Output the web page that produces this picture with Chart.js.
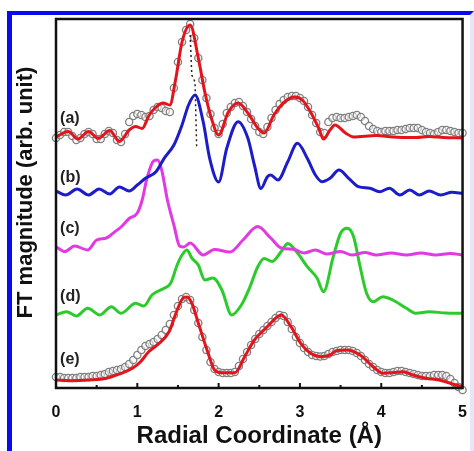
<!DOCTYPE html>
<html>
<head>
<meta charset="utf-8">
<script src="https://cdn.jsdelivr.net/npm/chart.js@4.4.1/dist/chart.umd.min.js"></script>
<style>
  html, body { margin: 0; padding: 0; background: #fff; }
  #wrap { position: relative; width: 474px; height: 451px; overflow: hidden; }
  #frame {
    position: absolute; left: 7px; top: 11px; right: 0; bottom: 0;
    border-top: 4px solid #0a0af0; border-left: 5px solid #0a0af0;
    border-right: 4px solid #e6e6fa; pointer-events: none;
  }
</style>
</head>
<body>
<div id="wrap">
  <canvas id="myChart" width="474" height="451"></canvas>
  <div id="frame"></div>
</div>
<script>
// Radial coordinate (Å) and FT magnitude (arb. unit) for each trace

// (a) fit
const rFitA = [0.00,0.15,0.27,0.40,0.52,0.66,0.78,0.90,0.98,1.06,1.14,1.23,1.32,1.40,1.47,1.55,1.65,1.75,1.83,1.91,2.00,2.12,2.24,2.36,2.48,2.56,2.68,2.81,2.93,3.03,3.13,3.23,3.29,3.37,3.43,3.56,3.66,3.94,4.14,4.43,4.59,4.76,5.00];
const vFitA = [251,256.5,249,256.5,249.5,257.5,246.5,258,261.5,259.5,272,281,285,283,308,346,363,330,296,270,253,276,285,275,260,255,273,286,291,288,276,260,249,258,263,255,251,252.5,251,250.5,251.5,250.5,250];

// (a) and (e) experimental points, every 0.05 Å from 0 to 5
const rExp = Array.from({length: 101}, (_, i) => +(i * 0.05).toFixed(2));
const vExpA = [
  250,253,256,256,252,248,250,254,256,254,
  249,249,254,257,255,248,246,254,266,272,
  274,273,271,272,278,281,280,277,276,300,
  326,346,358,364,350,330,308,290,274,260,
  254,264,275,281,285,286,282,276,269,262,
  256,254,261,270,278,284,288,291,292,292,
  290,287,281,273,265,256,255,266,270,271,
  270,270,271,272,273,271,267,262,259,257,
  256,257,257,257,258,258,259,260,260,260,
  258,256,255,254,256,258,258,257,256,255,
  255
];
const vExpE = [
  11,11,10,10,10,10,11,11,11,12,
  12,13,14,16,17,18,19,21,24,28,
  33,38,42,44,46,49,53,58,64,73,
  82,89,91,88,78,65,51,38,26,19,
  16,15,15,15,16,22,29,36,43,49,
  54,58,62,66,70,73,72,66,59,51,
  45,40,36,33,32,31.5,32,34,36,37,
  38,38,38,37,35,32,28,24,21,18,
  16,15,15,16,17,17,16,15,14,13,
  12,12,12,13,13,13,12,9,5,1,
  -2
];

// (b)
const rB = [0.00,0.12,0.26,0.40,0.53,0.66,0.78,0.90,1.00,1.10,1.23,1.33,1.45,1.55,1.63,1.71,1.81,1.89,2.00,2.10,2.24,2.36,2.44,2.52,2.60,2.64,2.73,2.85,2.97,3.09,3.19,3.27,3.37,3.48,3.60,3.72,3.86,3.98,4.10,4.23,4.35,4.47,4.59,4.73,4.87,5.00];
const vB = [197,193,199,193,199,194,201,197,203,209.7,216.3,229.7,243,263,283,293,266.3,229.7,206,239.7,266.3,249.7,223,199.5,211.3,213,208,226.3,244.7,229.7,213,206.3,209.7,218,209.7,201.3,199.7,196.3,199.7,193,198,193,197,193,195.7,194.7];

// (c)
const rC = [0.00,0.11,0.23,0.39,0.50,0.62,0.72,0.80,0.90,1.00,1.06,1.12,1.20,1.25,1.30,1.37,1.45,1.52,1.57,1.65,1.81,1.95,2.14,2.30,2.48,2.64,2.77,2.93,3.05,3.19,3.33,3.50,3.64,3.80,3.94,4.12,4.31,4.49,4.67,4.85,5.00];
const vC = [141.3,136.5,142,138,148,150,156,161,169.5,175,188,210,227,228,218,188,163,142,141,145,133,138.5,136,148,161.5,150,140,138.5,135,138,134,136.5,133,135.5,133,135,133,135,133,134.5,133];

// (d)
const rD = [0.00,0.13,0.25,0.39,0.54,0.68,0.80,0.98,1.08,1.18,1.33,1.41,1.49,1.55,1.61,1.67,1.75,1.83,1.93,2.04,2.16,2.28,2.38,2.48,2.56,2.66,2.77,2.85,2.97,3.09,3.21,3.29,3.41,3.50,3.58,3.66,3.74,3.82,3.90,4.02,4.14,4.31,4.43,4.59,4.79,5.00];
const vD = [73,76.3,72,79.7,73,81.3,74.7,84.7,82,93,99.7,104.7,123,133,138,130,123,108,110,98,73,83,100,121,129.5,126.5,136.5,144.5,135,121.3,110,96.3,131.3,154.7,159.7,151.3,121.3,94.7,86.3,91.3,88,79.7,74.7,76.3,75,74.7];

// (e) fit
const rFitE = [0.00,0.17,0.41,0.62,0.78,0.94,1.04,1.14,1.27,1.39,1.49,1.57,1.61,1.67,1.75,1.87,1.95,2.04,2.20,2.32,2.44,2.60,2.77,2.89,3.01,3.13,3.25,3.37,3.45,3.58,3.74,3.90,4.02,4.14,4.27,4.39,4.55,4.71,4.83,5.00];
const vFitE = [8,7.3,8,9.7,14,19.7,26.3,36.3,44.7,56.3,78,90.5,91,85,65,35,18,15.3,15.3,31.3,48,61.3,73,61.3,44.7,34.7,31.3,33,37.3,38,33,21.3,14.7,15.3,16.3,13,9.7,8,5.3,1];

// dotted guide between the main peaks of (a) and (b)
const rGuide = [1.65, 1.67, 1.71, 1.73];
const vGuide = [353, 313, 306, 240];

const xTicks = [0, 1, 2, 3, 4, 5];
const traceTags = ['(a)', '(b)', '(c)', '(d)', '(e)'];

function pts(xs, ys) {
    return xs.map((x, i) => ({ x: x, y: ys[i] }));
}

const FONT = "'Liberation Sans', Arial, Helvetica, sans-serif";

// frame, inward ticks, y title and trace tags
const framePlugin = {
    id: 'framePlugin',
    afterDraw(chart) {
        const ctx = chart.ctx;
        const a = chart.chartArea;
        const xs = chart.scales.x;
        const ys = chart.scales.y;
        ctx.save();
        ctx.strokeStyle = '#111';
        ctx.lineWidth = 2;
        for (let v = 0.5; v < 5; v += 0.5) {
            const px = xs.getPixelForValue(v);
            const len = Number.isInteger(v) ? 5 : 3;
            ctx.beginPath();
            ctx.moveTo(px, a.bottom);
            ctx.lineTo(px, a.bottom - len);
            ctx.stroke();
        }
        ctx.lineWidth = 2.5;
        ctx.strokeRect(a.left, a.top, a.right - a.left, a.bottom - a.top);

        // y title sits a little above the middle of the axis in the original
        ctx.fillStyle = '#111';
        ctx.font = 'bold 22px ' + FONT;
        ctx.textAlign = 'center';
        ctx.textBaseline = 'middle';
        ctx.translate(26, (a.top + a.bottom) / 2 - 11);
        ctx.rotate(-Math.PI / 2);
        ctx.fillText('FT magnitude (arb. unit)', 0, 0);
        ctx.setTransform(1, 0, 0, 1, 0, 0);

        const tagHeights = [269.5, 210, 159.5, 91, 28];
        ctx.fillStyle = '#222';
        ctx.font = 'bold 16px ' + FONT;
        ctx.textAlign = 'left';
        traceTags.forEach((t, i) => {
            ctx.fillText(t, xs.getPixelForValue(0.05), ys.getPixelForValue(tagHeights[i]));
        });
        ctx.restore();
    }
};

function drawChart() {
    const ctx = document.getElementById('myChart').getContext('2d');
    const line = (label, xs, ys, color) => ({
        label: label,
        data: pts(xs, ys),
        borderColor: color,
        borderWidth: 3,
        pointRadius: 0,
        fill: false,
        cubicInterpolationMode: 'monotone'
    });
    const circles = (label, ys) => ({
        label: label,
        data: pts(rExp, ys),
        showLine: false,
        pointStyle: 'circle',
        pointRadius: 3.6,
        pointBorderWidth: 1.3,
        pointBorderColor: '#7f7f7f',
        pointBackgroundColor: 'rgba(255,255,255,0.5)',
        clip: false
    });

    new Chart(ctx, {
        type: 'line',
        data: {
            datasets: [
                {
                    label: 'guide',
                    data: pts(rGuide, vGuide),
                    borderColor: '#222',
                    borderWidth: 1.5,
                    borderDash: [2, 3],
                    pointRadius: 0,
                    fill: false
                },
                line('(a) fit', rFitA, vFitA, '#e3141b'),
                line('(e) fit', rFitE, vFitE, '#e3141b'),
                circles('(a) exp', vExpA),
                circles('(e) exp', vExpE),
                line('(b)', rB, vB, '#1c1cc8'),
                line('(c)', rC, vC, '#e23ae2'),
                line('(d)', rD, vD, '#2ccb2c')
            ]
        },
        options: {
            responsive: false,
            animation: false,
            layout: { padding: { left: 0, right: 7, top: 19, bottom: 0 } },
            plugins: {
                legend: { display: false },
                tooltip: { enabled: false }
            },
            scales: {
                x: {
                    type: 'linear',
                    min: 0,
                    max: 5,
                    afterFit: s => { s.height = 63; },
                    afterBuildTicks: s => { s.ticks = xTicks.map(v => ({ value: v })); },
                    grid: { display: false },
                    border: { display: false },
                    ticks: {
                        color: '#111',
                        padding: 7,
                        maxRotation: 0,
                        font: { family: FONT, size: 16, weight: 'bold' }
                    },
                    title: {
                        display: true,
                        text: 'Radial Coordinate (Å)',
                        color: '#111',
                        padding: { top: 0, bottom: 0 },
                        font: { family: FONT, size: 24, weight: 'bold' }
                    }
                },
                y: {
                    min: 0,
                    max: 369,
                    afterFit: s => { s.width = 56; },
                    grid: { display: false },
                    border: { display: false },
                    ticks: { display: false },
                    title: { display: false }
                }
            }
        },
        plugins: [framePlugin]
    });
}

drawChart();
</script>
</body>
</html>
